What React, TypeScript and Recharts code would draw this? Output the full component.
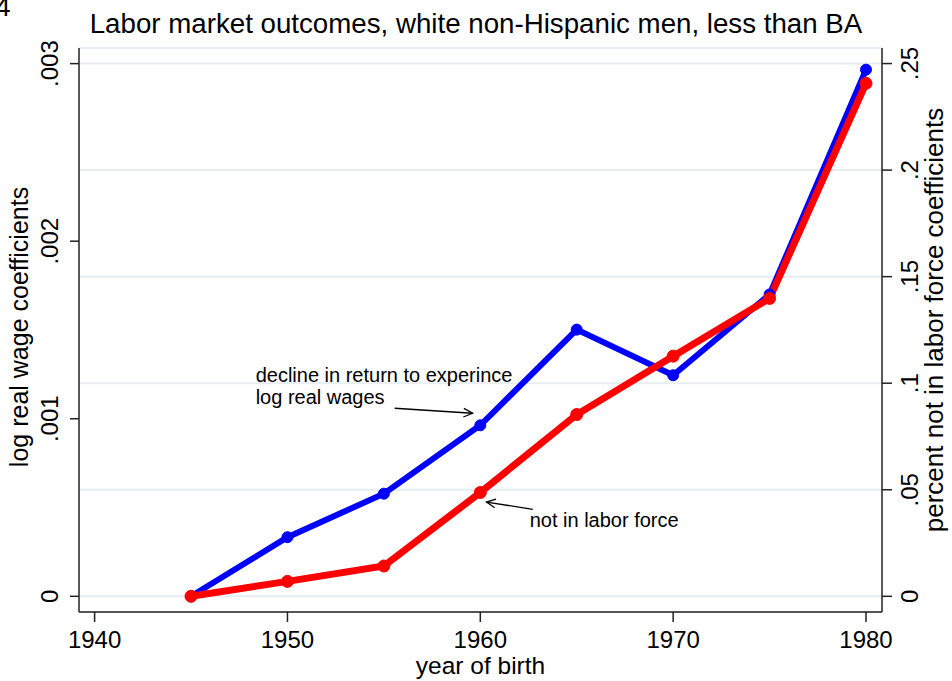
import { LineChart, Line, XAxis, YAxis, CartesianGrid, ReferenceLine, ReferenceDot } from "recharts";

const years = [1945, 1950, 1955, 1960, 1965, 1970, 1975, 1980];
// log real wage coefficients (left axis)
const wageCoef = [0, 0.000333, 0.000578, 0.000963, 0.001502, 0.001245, 0.0017, 0.002966];
// percent not in labor force coefficients (right axis)
const nilfCoef = [0, 0.007, 0.0142, 0.0487, 0.0853, 0.1127, 0.1398, 0.2407];

const xTicks = [1940, 1950, 1960, 1970, 1980];
const leftTicks = [0, 0.001, 0.002, 0.003];
const leftTickLabels = ["0", ".001", ".002", ".003"];
const rightTicks = [0, 0.05, 0.1, 0.15, 0.2, 0.25];
const rightTickLabels = ["0", ".05", ".1", ".15", ".2", ".25"];

const FONT = "'Liberation Sans', Arial, sans-serif";
const AXIS = "#222";

const data = years.map((year, i) => ({ year, wage: wageCoef[i], nilf: nilfCoef[i] }));

// open arrowhead drawn at (x2, y2)
function arrow(p: any) {
  const { x1, y1, x2, y2 } = p;
  const a = Math.atan2(y2 - y1, x2 - x1);
  const len = 10;
  const spread = 0.45;
  const hx1 = x2 - len * Math.cos(a - spread);
  const hy1 = y2 - len * Math.sin(a - spread);
  const hx2 = x2 - len * Math.cos(a + spread);
  const hy2 = y2 - len * Math.sin(a + spread);
  return (
    <g stroke="#000" strokeWidth={1.3} fill="none">
      <line x1={x1} y1={y1} x2={x2} y2={y2} />
      <polyline points={`${hx1},${hy1} ${x2},${y2} ${hx2},${hy2}`} />
    </g>
  );
}

function note(lines: string[]) {
  return (p: any) => (
    <text x={p.cx} y={p.cy} fontSize={20} fontFamily={FONT} fill="#000">
      {lines.map((l, i) => (
        <tspan key={i} x={p.cx} dy={i === 0 ? 0 : 22}>
          {l}
        </tspan>
      ))}
    </text>
  );
}

export default function App() {
  return (
    <div style={{ position: "absolute", left: 0, top: 0, width: 952, height: 681, background: "#fff" }}>
      <svg width={952} height={681} style={{ position: "absolute", left: 0, top: 0, pointerEvents: "none" }}>
        <text x={-5} y={16} fontSize={28} fontFamily={FONT} fill="#000">4</text>
        <text x={476} y={33} fontSize={27.7} fontFamily={FONT} fill="#000" textAnchor="middle">
          Labor market outcomes, white non-Hispanic men, less than BA
        </text>
      </svg>
      <LineChart width={952} height={681} data={data} margin={{ top: 48, right: 0, bottom: 0, left: 0 }}>
        <CartesianGrid yAxisId="right" vertical={false} stroke="#e6eef0" strokeWidth={2} />
        <XAxis
          dataKey="year"
          type="number"
          domain={[1939.19, 1980.83]}
          allowDataOverflow
          ticks={xTicks}
          height={69}
          tickSize={10}
          tickMargin={9}
          stroke={AXIS}
          strokeWidth={1.5}
          tick={{ fontSize: 24, fill: "#000", fontFamily: FONT }}
          label={{
            content: (p: any) => (
              <text x={p.viewBox.x + p.viewBox.width / 2} y={674} fontSize={24.5} fontFamily={FONT} fill="#000" textAnchor="middle">
                year of birth
              </text>
            ),
          }}
        />
        <YAxis
          yAxisId="left"
          domain={[-0.0000884, 0.003088]}
          allowDataOverflow
          ticks={leftTicks}
          width={79}
          tickSize={9}
          stroke={AXIS}
          strokeWidth={1.5}
          tick={(p: any) => (
            <text x={58} y={p.y} transform={`rotate(-90, 58, ${p.y})`} fontSize={24} fontFamily={FONT} fill="#000" textAnchor="middle">
              {leftTickLabels[leftTicks.indexOf(p.payload.value)]}
            </text>
          )}
          label={{
            content: (p: any) => {
              const cy = p.viewBox.y + p.viewBox.height / 2 - 3;
              return (
                <text x={28} y={cy} transform={`rotate(-90, 28, ${cy})`} fontSize={25} fontFamily={FONT} fill="#000" textAnchor="middle">
                  log real wage coefficients
                </text>
              );
            },
          }}
        />
        <YAxis
          yAxisId="right"
          orientation="right"
          domain={[-0.00737, 0.2573]}
          allowDataOverflow
          ticks={rightTicks}
          width={70}
          tickSize={10}
          stroke={AXIS}
          strokeWidth={1.5}
          tick={(p: any) => (
            <text x={918} y={p.y} transform={`rotate(-90, 918, ${p.y})`} fontSize={24} fontFamily={FONT} fill="#000" textAnchor="middle">
              {rightTickLabels[rightTicks.indexOf(p.payload.value)]}
            </text>
          )}
          label={{
            content: (p: any) => {
              const cy = p.viewBox.y + p.viewBox.height / 2 - 10;
              return (
                <text x={943} y={cy} transform={`rotate(-90, 943, ${cy})`} fontSize={26} fontFamily={FONT} fill="#000" textAnchor="middle">
                  percent not in labor force coefficients
                </text>
              );
            },
          }}
        />
        <Line
          yAxisId="left"
          dataKey="wage"
          stroke="#0000ff"
          strokeWidth={6}
          dot={{ r: 5.5, fill: "#0000ff", stroke: "#0000ff", strokeWidth: 1 }}
          isAnimationActive={false}
        />
        <Line
          yAxisId="right"
          dataKey="nilf"
          stroke="#ff0000"
          strokeWidth={7}
          dot={{ r: 6, fill: "#ff0000", stroke: "#ff0000", strokeWidth: 1 }}
          isAnimationActive={false}
        />
        <ReferenceLine
          yAxisId="left"
          segment={[{ x: 1955.56, y: 0.001059 }, { x: 1959.6, y: 0.001031 }]}
          shape={arrow}
        />
        <ReferenceLine
          yAxisId="left"
          segment={[{ x: 1962.72, y: 0.00049 }, { x: 1960.32, y: 0.000531 }]}
          shape={arrow}
        />
        <ReferenceDot
          yAxisId="left"
          x={1948.35}
          y={0.001205}
          r={0}
          shape={note(["decline in return to experince", "log real wages"])}
        />
        <ReferenceDot yAxisId="left" x={1962.56} y={0.000389} r={0} shape={note(["not in labor force"])} />
      </LineChart>
    </div>
  );
}
